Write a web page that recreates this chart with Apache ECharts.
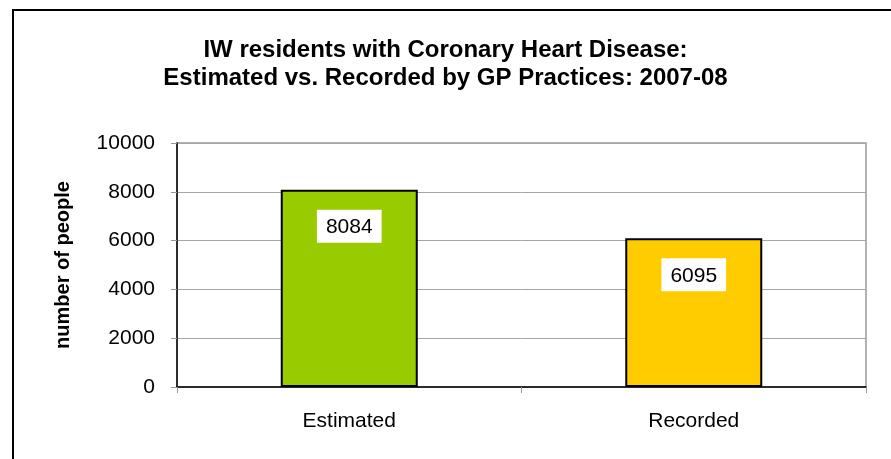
<!DOCTYPE html>
<html>
<head>
<meta charset="utf-8">
<script src="https://cdn.jsdelivr.net/npm/echarts@6/dist/echarts.min.js"></script>
<style>
    html, body { margin: 0; padding: 0; background: #fff; }
    #chart { width: 891px; height: 459px; }
</style>
</head>
<body>
<div id="chart"></div>
<script>
    // categories and values
    var categories = ['Estimated', 'Recorded'];
    var values = [8084, 6095];
    var barColors = ['#99cc00', '#ffcc00'];
    var yTicks = [0, 2000, 4000, 6000, 8000, 10000];

    var font = '"Liberation Sans", Arial, sans-serif';
    var chart = echarts.init(document.getElementById('chart'));

    chart.setOption({
        backgroundColor: '#fff',
        animation: false,
        title: {
            text: 'IW residents with Coronary Heart Disease:\nEstimated vs. Recorded by GP Practices: 2007-08',
            left: 'center',
            top: 31,
            textStyle: {
                fontFamily: font,
                fontSize: 24,
                fontWeight: 'bold',
                color: '#000',
                lineHeight: 28
            }
        },
        graphic: [{
            type: 'rect',
            shape: { x: 13, y: 10, width: 900, height: 500 },
            style: { fill: 'none', stroke: '#000', lineWidth: 2 },
            silent: true
        }],
        grid: {
            left: 177,
            right: 25,
            top: 143,
            bottom: 72,
            show: true,
            borderColor: '#999',
            borderWidth: 1.5
        },
        xAxis: {
            type: 'category',
            data: categories,
            axisLine: { lineStyle: { color: '#000', width: 1.5 } },
            axisTick: { show: true, length: 6, alignWithLabel: false, lineStyle: { color: '#999' } },
            axisLabel: {
                margin: 24,
                fontFamily: font,
                fontSize: 21,
                color: '#000'
            }
        },
        yAxis: {
            type: 'value',
            min: yTicks[0],
            max: yTicks[yTicks.length - 1],
            interval: 2000,
            name: 'number of people',
            nameLocation: 'middle',
            nameGap: 104,
            nameTextStyle: {
                fontFamily: font,
                fontSize: 20,
                fontWeight: 'bold',
                color: '#000'
            },
            axisLine: { show: true, lineStyle: { color: '#000', width: 1.5 } },
            axisTick: { show: true, length: 6, lineStyle: { color: '#999' } },
            axisLabel: {
                margin: 22,
                fontFamily: font,
                fontSize: 21,
                color: '#000',
                formatter: function (v) { return String(v); }
            },
            splitLine: { show: true, lineStyle: { color: '#a6a6a6', width: 1 } }
        },
        series: [{
            type: 'bar',
            barWidth: 137,
            data: values.map(function (v, i) {
                return { value: v, itemStyle: { color: barColors[i] } };
            }),
            itemStyle: { borderColor: '#000', borderWidth: 2 },
            label: {
                show: true,
                position: 'insideTop',
                distance: 20,
                backgroundColor: '#fff',
                padding: [7, 9, 5, 9],
                fontFamily: font,
                fontSize: 21,
                color: '#000'
            }
        }]
    });
</script>
</body>
</html>
